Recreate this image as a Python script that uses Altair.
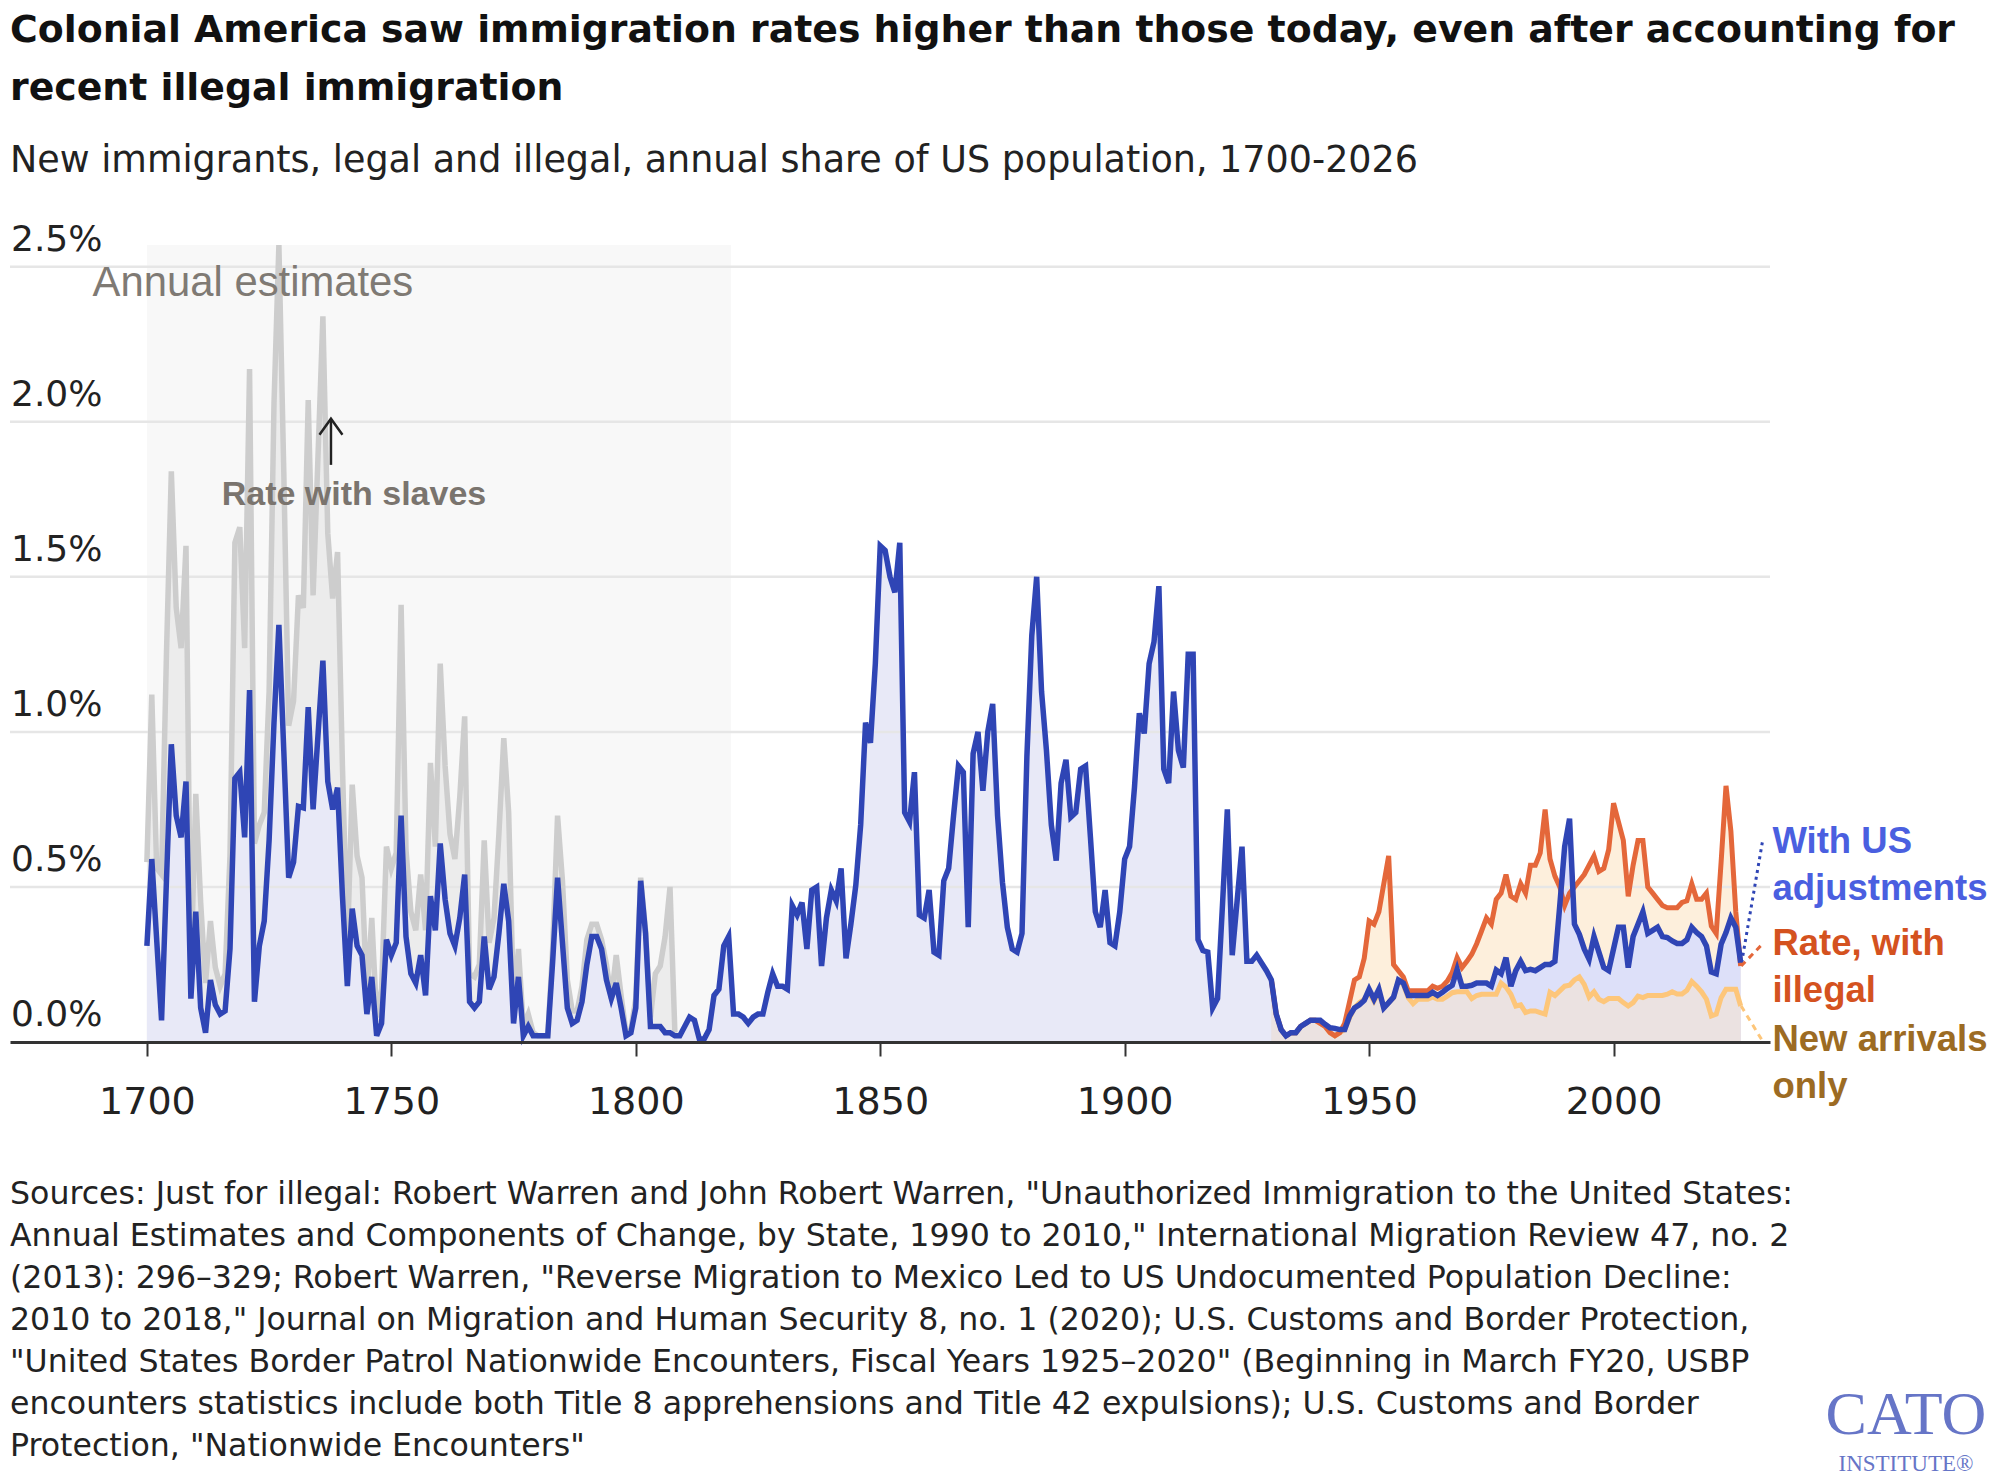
import altair as alt
import pandas as pd

# ---------------------------------------------------------------------------
# Data: new immigrants as a share of the US population (percent per year)
# ---------------------------------------------------------------------------
blue_start = 1700  # "With US adjustments", 1700-2026
with_adjustments = [
    0.31, 0.59, 0.33, 0.07, 0.52, 0.96, 0.73, 0.66, 0.84, 0.14,   # 1700s
    0.42, 0.11, 0.03, 0.20, 0.12, 0.09, 0.10, 0.30, 0.85, 0.87,   # 1710s
    0.66, 1.135, 0.13, 0.31, 0.39, 0.65, 1.03, 1.345, 0.94, 0.53,  # 1720s
    0.58, 0.76, 0.755, 1.08, 0.75, 0.99, 1.23, 0.84, 0.75, 0.82,  # 1730s
    0.47, 0.18, 0.43, 0.31, 0.28, 0.09, 0.21, 0.02, 0.06, 0.33,   # 1740s
    0.28, 0.32, 0.73, 0.34, 0.22, 0.19, 0.28, 0.15, 0.47, 0.36,   # 1750s
    0.64, 0.46, 0.35, 0.31, 0.40, 0.54, 0.13, 0.11, 0.13, 0.34,   # 1760s
    0.17, 0.21, 0.35, 0.51, 0.39, 0.06, 0.21, 0.02, 0.05, 0.02,   # 1770s
    0.02, 0.02, 0.02, 0.26, 0.53, 0.32, 0.11, 0.06, 0.07, 0.13,   # 1780s
    0.25, 0.34, 0.34, 0.30, 0.20, 0.14, 0.19, 0.11, 0.02, 0.03,   # 1790s
    0.11, 0.52, 0.35, 0.05, 0.05, 0.05, 0.03, 0.03, 0.02, 0.02,   # 1800s
    0.05, 0.08, 0.07, 0.01, 0.01, 0.04, 0.15, 0.17, 0.31, 0.34,   # 1810s
    0.09, 0.09, 0.08, 0.06, 0.08, 0.09, 0.09, 0.16, 0.22, 0.18,   # 1820s
    0.18, 0.17, 0.44, 0.41, 0.45, 0.30, 0.49, 0.50, 0.245, 0.40,  # 1830s
    0.49, 0.455, 0.56, 0.27, 0.38, 0.505, 0.70, 1.03, 0.965, 1.22,  # 1840s
    1.60, 1.585, 1.50, 1.45, 1.61, 0.74, 0.71, 0.87, 0.41, 0.40,  # 1850s
    0.49, 0.29, 0.28, 0.52, 0.56, 0.73, 0.89, 0.87, 0.37, 0.93,   # 1860s
    1.00, 0.81, 1.00, 1.09, 0.73, 0.515, 0.37, 0.30, 0.29, 0.35,  # 1870s
    0.92, 1.31, 1.50, 1.13, 0.94, 0.70, 0.585, 0.835, 0.91, 0.725,  # 1880s
    0.74, 0.88, 0.89, 0.66, 0.42, 0.37, 0.49, 0.32, 0.31, 0.42,   # 1890s
    0.59, 0.63, 0.82, 1.06, 0.995, 1.22, 1.29, 1.47, 0.88, 0.835,  # 1900s
    1.13, 0.94, 0.885, 1.25, 1.25, 0.33, 0.295, 0.29, 0.11, 0.14,  # 1910s
    0.44, 0.75, 0.28, 0.455, 0.63, 0.26, 0.26, 0.28, 0.255, 0.23,  # 1920s
    0.20, 0.09, 0.04, 0.02, 0.03, 0.03, 0.05, 0.06, 0.07, 0.07,   # 1930s
    0.07, 0.057, 0.046, 0.044, 0.04, 0.04, 0.084, 0.11, 0.12, 0.134,  # 1940s
    0.17, 0.138, 0.17, 0.11, 0.127, 0.145, 0.20, 0.19, 0.15, 0.15,  # 1950s
    0.15, 0.15, 0.15, 0.16, 0.15, 0.16, 0.173, 0.183, 0.234, 0.18,  # 1960s
    0.18, 0.183, 0.19, 0.19, 0.19, 0.18, 0.232, 0.22, 0.272, 0.18,  # 1970s
    0.23, 0.26, 0.23, 0.234, 0.23, 0.24, 0.25, 0.25, 0.26, 0.44,  # 1980s
    0.63, 0.72, 0.38, 0.347, 0.30, 0.267, 0.34, 0.29, 0.24, 0.23,  # 1990s
    0.30, 0.37, 0.37, 0.24, 0.34, 0.38, 0.42, 0.35, 0.36, 0.37,   # 2000s
    0.34, 0.337, 0.326, 0.318, 0.318, 0.33, 0.37, 0.353, 0.34, 0.31,  # 2010s
    0.226, 0.22, 0.315, 0.353, 0.40, 0.37, 0.256,                 # 2020-2026
]

slaves_start = 1700  # "Rate with slaves", 1700-1808
with_slaves = [
    0.58, 1.12, 0.56, 0.54, 1.25, 1.84, 1.40, 1.27, 1.60, 0.22,   # 1700s
    0.80, 0.45, 0.19, 0.39, 0.24, 0.18, 0.22, 0.60, 1.61, 1.66,   # 1710s
    1.27, 2.17, 0.64, 0.70, 0.74, 1.13, 2.06, 2.57, 1.84, 1.02,   # 1720s
    1.10, 1.44, 1.40, 2.07, 1.44, 1.89, 2.34, 1.64, 1.43, 1.58,   # 1730s
    0.89, 0.30, 0.83, 0.60, 0.53, 0.15, 0.40, 0.08, 0.17, 0.63,   # 1740s
    0.56, 0.61, 1.41, 0.62, 0.42, 0.36, 0.54, 0.36, 0.90, 0.63,   # 1750s
    1.22, 0.89, 0.67, 0.59, 0.79, 1.05, 0.22, 0.21, 0.25, 0.65,   # 1760s
    0.32, 0.40, 0.67, 0.98, 0.74, 0.12, 0.30, 0.05, 0.09, 0.03,   # 1770s
    0.02, 0.02, 0.02, 0.30, 0.73, 0.52, 0.20, 0.10, 0.10, 0.18,   # 1780s
    0.33, 0.38, 0.38, 0.33, 0.25, 0.14, 0.28, 0.15, 0.03, 0.04,   # 1790s
    0.14, 0.53, 0.36, 0.08, 0.22, 0.245, 0.34, 0.50, 0.03,        # 1800-1808
]

modern_start = 1930  # illegal-immigration series, 1930-2026
with_illegal = [
    0.20, 0.09, 0.04, 0.02, 0.03, 0.03, 0.05, 0.06, 0.07, 0.07,   # 1930s
    0.06, 0.05, 0.03, 0.02, 0.03, 0.06, 0.13, 0.20, 0.21, 0.27,   # 1940s
    0.39, 0.38, 0.42, 0.51, 0.60, 0.25, 0.23, 0.21, 0.165, 0.165,  # 1950s
    0.165, 0.165, 0.165, 0.18, 0.173, 0.18, 0.197, 0.224, 0.272, 0.24,  # 1960s
    0.26, 0.283, 0.317, 0.358, 0.40, 0.38, 0.46, 0.48, 0.54, 0.47,  # 1970s
    0.46, 0.51, 0.48, 0.57, 0.57, 0.61, 0.75, 0.59, 0.535, 0.50,  # 1980s
    0.44, 0.48, 0.50, 0.52, 0.54, 0.57, 0.60, 0.55, 0.56, 0.62,   # 1990s
    0.77, 0.71, 0.65, 0.47, 0.57, 0.65, 0.65, 0.50, 0.48, 0.46,   # 2000s
    0.44, 0.433, 0.433, 0.433, 0.45, 0.455, 0.51, 0.46, 0.46, 0.48,  # 2010s
    0.374, 0.35, 0.58, 0.826, 0.68, 0.42, 0.245,                  # 2020-2026
]
new_arrivals = [
    0.20, 0.09, 0.04, 0.02, 0.03, 0.03, 0.05, 0.06, 0.07, 0.07,   # 1930s
    0.06, 0.05, 0.03, 0.02, 0.03, 0.04, 0.078, 0.11, 0.127, 0.138,  # 1940s
    0.16, 0.132, 0.16, 0.11, 0.127, 0.143, 0.197, 0.186, 0.143, 0.124,  # 1950s
    0.138, 0.138, 0.138, 0.145, 0.138, 0.138, 0.148, 0.159, 0.162, 0.162,  # 1960s
    0.162, 0.14, 0.15, 0.154, 0.154, 0.154, 0.154, 0.19, 0.177, 0.154,  # 1970s
    0.116, 0.12, 0.095, 0.10, 0.10, 0.095, 0.09, 0.16, 0.15, 0.165,  # 1980s
    0.18, 0.183, 0.20, 0.21, 0.186, 0.145, 0.162, 0.138, 0.13, 0.14,  # 1990s
    0.14, 0.14, 0.127, 0.116, 0.127, 0.148, 0.143, 0.15, 0.15, 0.15,  # 2000s
    0.15, 0.154, 0.162, 0.155, 0.155, 0.167, 0.195, 0.18, 0.162, 0.138,  # 2010s
    0.084, 0.09, 0.143, 0.17, 0.17, 0.17, 0.116,                  # 2020-2026
]

x_ticks = [1700, 1750, 1800, 1850, 1900, 1950, 2000]
y_ticks = [0.0, 0.5, 1.0, 1.5, 2.0, 2.5]
y_tick_labels = ["0.0%", "0.5%", "1.0%", "1.5%", "2.0%", "2.5%"]

title_text = (
    "Colonial America saw immigration rates higher than those today, even after accounting for\n"
    "recent illegal immigration"
)
subtitle_text = "New immigrants, legal and illegal, annual share of US population, 1700-2026"
source_text = "\n".join([
    'Sources: Just for illegal: Robert Warren and John Robert Warren, "Unauthorized Immigration to the United States:',
    'Annual Estimates and Components of Change, by State, 1990 to 2010," International Migration Review 47, no. 2',
    '(2013): 296\u2013329; Robert Warren, "Reverse Migration to Mexico Led to US Undocumented Population Decline:',
    '2010 to 2018," Journal on Migration and Human Security 8, no. 1 (2020); U.S. Customs and Border Protection,',
    '"United States Border Patrol Nationwide Encounters, Fiscal Years 1925\u20132020" (Beginning in March FY20, USBP',
    'encounters statistics include both Title 8 apprehensions and Title 42 expulsions); U.S. Customs and Border',
    'Protection, "Nationwide Encounters"',
])

# ---------------------------------------------------------------------------
# Tables
# ---------------------------------------------------------------------------
adj_df = pd.DataFrame({"year": range(blue_start, blue_start + len(with_adjustments)),
                       "rate": with_adjustments})
adj_modern_df = adj_df[adj_df["year"] >= modern_start]
slaves_df = pd.DataFrame({"year": range(slaves_start, slaves_start + len(with_slaves)),
                          "rate": with_slaves})
illegal_df = pd.DataFrame({"year": range(modern_start, modern_start + len(with_illegal)),
                           "rate": with_illegal})
arrivals_df = pd.DataFrame({"year": range(modern_start, modern_start + len(new_arrivals)),
                            "rate": new_arrivals})
grid_df = pd.DataFrame({"rate": y_ticks[1:]})
ylab_df = pd.DataFrame({"rate": y_ticks, "label": y_tick_labels})

BLUE, ORANGE, YELLOW, GRAY = "#2f45b5", "#e4673a", "#fdc67a", "#cdcdcd"
SANS, WIDE, SERIF = "Liberation Sans", "DejaVu Sans", "Liberation Serif"

W, H = 1760, 797
x_scale = alt.Scale(domain=[1672, 2032], nice=False, zero=False)
y_scale = alt.Scale(domain=[0, 2.57], nice=False, zero=False)
x_axis = alt.Axis(values=x_ticks, format="d", title=None, grid=False,
                  labelFont=WIDE, labelFontSize=38, labelColor="#222",
                  labelPadding=27, labelFlush=False, labelOverlap=False,
                  tickSize=14, tickWidth=2, tickColor="#333",
                  domainColor="#333", domainWidth=3, zindex=1)
X = alt.X("year:Q", scale=x_scale, axis=x_axis)
Y = alt.Y("rate:Q", scale=y_scale, axis=None)


def area(df, color):
    return alt.Chart(df).mark_area(color=color, opacity=1, interpolate="linear").encode(
        x=X, y=alt.Y("rate:Q", scale=y_scale, axis=None, stack=None))


def line(df, color, width):
    return alt.Chart(df).mark_line(color=color, strokeWidth=width, interpolate="linear").encode(x=X, y=Y)


# shaded period of annual estimates
est_df = pd.DataFrame({"year": [1700], "year2": [1819.5], "rate": [0.0], "rate2": [2.57]})
estimates_band = alt.Chart(est_df).mark_rect(color="#f8f8f8").encode(
    x=X, x2="year2:Q", y=Y, y2="rate2:Q")

grid = alt.Chart(grid_df).mark_rule(color="#e6e6e6", strokeWidth=2.5).encode(
    y=Y, x=alt.value(0), x2=alt.value(W))

y_labels = alt.Chart(ylab_df).mark_text(
    align="left", baseline="alphabetic", dy=-16, font=WIDE, fontSize=36, color="#222"
).encode(y=Y, x=alt.value(1), text="label:N")

# leader lines from series ends to their labels
end_year = blue_start + len(with_adjustments) - 1
lead_adj = pd.DataFrame({"year": [end_year + 0.2, end_year + 4.5], "rate": [with_adjustments[-1], 0.65]})
lead_ill = pd.DataFrame({"year": [end_year + 0.1, end_year + 4.4], "rate": [with_illegal[-1], 0.315]})
lead_arr = pd.DataFrame({"year": [end_year + 0.1, end_year + 4.4], "rate": [new_arrivals[-1], 0.005]})
leaders = [
    alt.Chart(lead_adj).mark_line(color=BLUE, strokeWidth=3, strokeDash=[3, 4]).encode(x=X, y=Y),
    alt.Chart(lead_ill).mark_line(color=ORANGE, strokeWidth=3, strokeDash=[6, 5]).encode(x=X, y=Y),
    alt.Chart(lead_arr).mark_line(color=YELLOW, strokeWidth=3, strokeDash=[6, 5]).encode(x=X, y=Y),
]


def label(text, year, rate, color, size=36.5, weight="bold", font=SANS, line_height=47):
    df = pd.DataFrame({"year": [year], "rate": [rate], "t": [text]})
    return alt.Chart(df).mark_text(
        align="left", baseline="alphabetic", font=font, fontSize=size, fontWeight=weight,
        color=color, lineBreak="\n", lineHeight=line_height
    ).encode(x=X, y=Y, text="t:N")


series_labels = [
    label("With US\nadjustments", 2032.5, 0.61, "#4a5fe0"),
    label("Rate, with\nillegal", 2032.5, 0.281, "#d4521f"),
    label("New arrivals\nonly", 2032.5, -0.029, "#9c6b23"),
]

annotations = [
    label("Annual estimates", 1688.9, 2.405, "#7f7a74", size=41.8, weight="normal"),
    label("Rate with slaves", 1715.3, 1.732, "#7a746e", size=34),
]
arrow_shaft = pd.DataFrame({"year": [1737.65, 1737.65], "rate": [1.861, 2.008]})
arrow_head = pd.DataFrame({"year": [1735.3, 1737.65, 1740.0], "rate": [1.958, 2.01, 1.958]})
arrow = [
    alt.Chart(arrow_shaft).mark_line(color="#222", strokeWidth=2.5).encode(x=X, y=Y),
    alt.Chart(arrow_head).mark_line(color="#222", strokeWidth=2.5).encode(x=X, y=Y, order="year:Q"),
]

# page text: title block, sources, logo (positions relative to the plot origin)
one = pd.DataFrame({"t": [""]})


def page_text(text, x, y, size, weight="normal", color="#1a1a1a", font=SANS, line_height=None, align="left"):
    kw = dict(align=align, baseline="alphabetic", font=font, fontSize=size, fontWeight=weight,
              color=color, text=text)
    if line_height:
        kw.update(lineBreak="\n", lineHeight=line_height)
    return alt.Chart(one).mark_text(**kw).encode(x=alt.value(x), y=alt.value(y))


LOGO = "#6675c7"
page = [
    page_text(title_text, 0, -203, 37.8, weight="bold", color="#111", font=WIDE, line_height=58),
    page_text(subtitle_text, 0, -73, 36.5, color="#222", font=WIDE),
    page_text(source_text, 0, 959, 31.6, color="#222", font=WIDE, line_height=42),
    page_text("CATO", 1896, 1189, 62, color=LOGO, font=SERIF, align="center"),
    page_text("INSTITUTE\u00ae", 1896, 1226, 23, color=LOGO, font=SERIF, align="center"),
]

chart = alt.layer(
    estimates_band,
    area(slaves_df, "#ececec"),
    area(adj_df, "#e8e9f7"),
    area(illegal_df, "#fdefdc"),
    area(adj_modern_df, "#dde0f9"),
    area(arrivals_df, "#ebe2e1"),
    grid,
    line(slaves_df, GRAY, 5.5),
    line(arrivals_df, YELLOW, 5),
    line(illegal_df, ORANGE, 5),
    line(adj_df, BLUE, 5.5),
    *leaders,
    *arrow,
    *annotations,
    *series_labels,
    y_labels,
    *page,
).properties(
    width=W, height=H,
    autosize=alt.AutoSizeParams(type="none"),
    padding={"left": 10, "top": 245, "right": 227, "bottom": 439},
    background="white",
).configure_view(stroke=None)

chart.save("out.html", embed_options={"renderer": "svg", "actions": False})
